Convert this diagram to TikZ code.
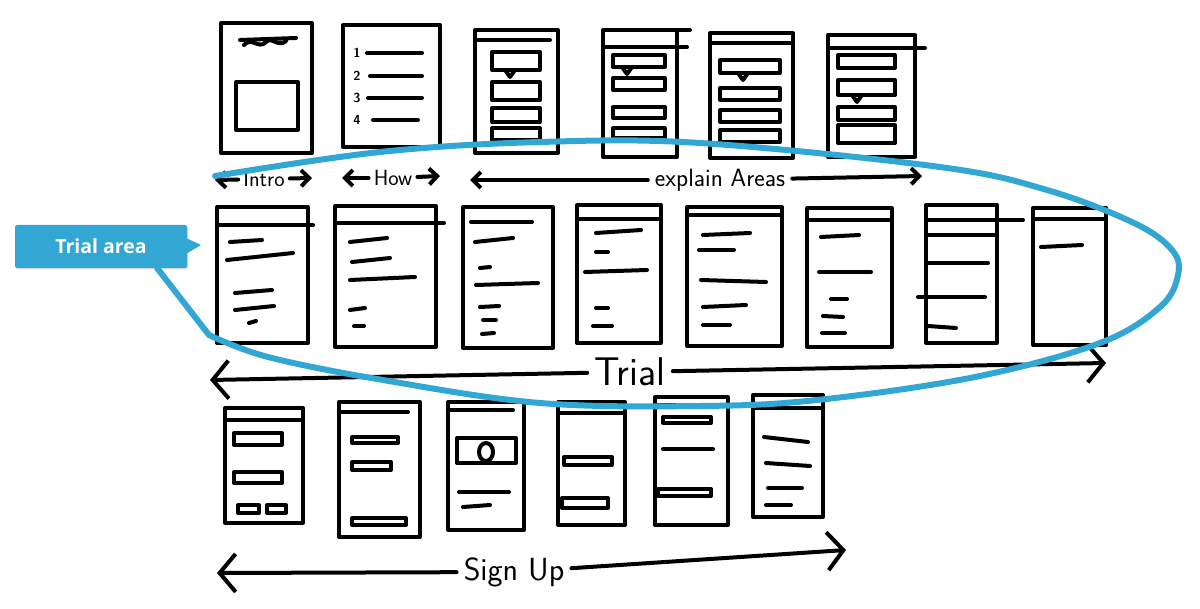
\documentclass[tikz,border=0pt]{standalone}
\usepackage{fontspec}
\newfontfamily\calloutfont{Open Sans}
\usetikzlibrary{arrows.meta,shadows}
\definecolor{trialblue}{HTML}{32A7D4}

\begin{document}
\begin{tikzpicture}[x=1pt, y=-1pt,
  ink/.style={line width=4pt, line cap=round, line join=round},
  screen/.style={draw, ink, inner sep=0pt, outer sep=0pt},
  arr/.style={ink, -{Straight Barb[length=8pt,width=16pt]}},
  bigarr/.style={ink, -{Straight Barb[length=16pt,width=38pt]}},
  hand/.style={font=\sffamily, inner sep=7pt},
  arealine/.style={trialblue, line width=6pt, line cap=round, line join=round},
  callbox/.style={fill=trialblue, text=white, rounded corners=2pt, minimum width=172, minimum height=43,
    font=\calloutfont\bfseries\fontsize{19.5}{19.5}\selectfont,
    drop shadow={opacity=0.3, shadow xshift=1pt, shadow yshift=-1.5pt}}]
\useasboundingbox (0,0) rectangle (1200,609);

\node[screen, minimum width=91, minimum height=130] (intro) at (266.5,88) {};
\draw[ink] (240,40) -- (296,38);
\draw[ink] (244,45) .. controls (252,36) and (258,50) .. (266,42) .. controls (272,36) and (278,48) .. (286,41);
\draw[ink] (236,82) rectangle (298,130);
\node[screen, minimum width=97, minimum height=122] (how) at (391.5,86) {};
\foreach \n/\y/\xa/\xb in {1/53/367/422, 2/76/370/422, 3/98/368/422, 4/120/373/418} {
  \node[font=\sffamily\bfseries\fontsize{13}{13}\selectfont, inner sep=0pt] (num\n) at (357,\y) {\n};
  \draw[ink] (\xa,\y) -- (\xb,\y);
}
\node[screen, minimum width=83, minimum height=123] (explainA) at (516.5,91.5) {};
\node[screen, minimum width=74, minimum height=127] (explainB) at (640,93.5) {};
\node[screen, minimum width=83, minimum height=125] (explainC) at (751.5,95.5) {};
\node[screen, minimum width=87, minimum height=122] (explainD) at (871.5,96) {};
\foreach \xa/\xb/\y in {475/550/40, 603/687/47, 677/690/30, 710/793/43, 828/925/48}
  \draw[ink] (\xa,\y) -- (\xb,\y);
\foreach \xa/\xb/\ya/\yb in {492/540/52/70, 492/540/82/100, 492/540/108/122, 492/540/128/140,
    613/665/55/67, 613/665/78/90, 613/665/107/118, 613/665/128/138,
    720/780/60/73, 720/780/88/100, 720/780/110/122, 720/780/130/142,
    838/895/55/68, 838/895/80/95, 838/895/107/120, 838/895/125/143}
  \draw[ink] (\xa,\ya) rectangle (\xb,\yb);
\foreach \x/\y in {510/70, 627/67, 743/73, 857/95}
  \draw[ink] (\x-5,\y) -- (\x,\y+7) -- (\x+5,\y);

\node[hand, inner sep=5pt, font=\sffamily\fontsize{22}{22}\selectfont] (introtxt) at (264,179) {Intro};
\coordinate (introL) at (215,180);
\coordinate (introR) at (312,178);
\draw[arr] (introtxt) -- (introL);
\draw[arr] (introtxt) -- (introR);
\node[hand, inner sep=5pt, font=\sffamily\fontsize{22}{22}\selectfont] (howtxt) at (393,178) {How};
\coordinate (howL) at (342,178);
\coordinate (howR) at (440,176);
\draw[arr] (howtxt) -- (howL);
\draw[arr] (howtxt) -- (howR);
\node[hand, font=\sffamily\fontsize{25}{25}\selectfont] (exptxt) at (720,180) {explain Areas};
\coordinate (expL) at (470,180);
\coordinate (expR) at (922,176);
\draw[arr] (exptxt) -- (expL);
\draw[arr] (exptxt) -- (expR);

\node[screen, minimum width=91, minimum height=136] (trialA) at (262.5,275) {};
\node[screen, minimum width=101, minimum height=141] (trialB) at (385.5,276.5) {};
\node[screen, minimum width=90, minimum height=141] (trialC) at (508,277.5) {};
\node[screen, minimum width=84, minimum height=138] (trialD) at (619,274) {};
\node[screen, minimum width=95, minimum height=139] (trialE) at (734.5,276.5) {};
\node[screen, minimum width=85, minimum height=139] (trialF) at (849.5,277.5) {};
\node[screen, minimum width=71, minimum height=138] (trialG) at (961.5,274) {};
\node[screen, minimum width=73, minimum height=137] (trialH) at (1069.5,276.5) {};
\foreach \xa/\xb/\y in {217/313/225, 335/444/223, 471/532/222, 577/661/219, 687/782/215,
    810/892/220, 926/1023/220, 1033/1106/219}
  \draw[ink] (\xa,\y) -- (\xb,\y);
\foreach \xa/\ya/\xb/\yb in {230/242/262/240, 227/260/293/253, 235/293/272/290, 235/310/274/306, 249/323/256/321,
    350/242/387/238, 352/262/390/258, 350/280/415/277, 350/310/365/308, 354/326/364/326,
    475/242/513/238, 480/268/490/267, 476/285/538/283, 480/307/499/306, 483/320/496/320, 482/334/494/333,
    596/233/641/230, 596/252/608/252, 585/272/647/270, 596/308/608/308, 593/326/612/326,
    703/235/750/233, 699/250/734/250, 701/280/766/282, 703/307/746/305, 703/325/730/325,
    821/237/859/235, 819/272/871/272, 831/299/847/299, 823/316/843/317, 822/333/845/333,
    926/235/995/235, 926/263/988/263, 918/297/985/297, 928/326/956/328,
    1041/247/1082/245}
  \draw[ink] (\xa,\ya) -- (\xb,\yb);

\node[hand, font=\sffamily\fontsize{40}{40}\selectfont] (trialtxt) at (630,372) {Trial};
\coordinate (trialL) at (210,380);
\coordinate (trialR) at (1106,363);
\draw[bigarr] (trialtxt) -- (trialL);
\draw[bigarr] (trialtxt) -- (trialR);

\node[screen, minimum width=78, minimum height=115] (signA) at (264,465.5) {};
\node[screen, minimum width=81, minimum height=135] (signB) at (379.5,469.5) {};
\node[screen, minimum width=76, minimum height=128] (signC) at (486,466) {};
\node[screen, minimum width=67, minimum height=123] (signD) at (591.5,463.5) {};
\node[screen, minimum width=73, minimum height=128] (signE) at (691.5,461) {};
\node[screen, minimum width=70, minimum height=122] (signF) at (788,456) {};
\foreach \xa/\xb/\y in {225/303/420, 339/408/412, 448/513/410, 558/625/413, 655/725/405, 753/823/408}
  \draw[ink] (\xa,\y) -- (\xb,\y);
\foreach \xa/\ya/\xb/\yb in {234/433/282/445, 234/472/282/483, 238/505/259/513, 267/505/286/513,
    352/437/398/443, 352/462/391/470, 352/518/406/525,
    457/438/516/463, 564/457/612/465, 562/498/608/508,
    663/417/711/423, 658/489/711/496}
  \draw[ink] (\xa,\ya) rectangle (\xb,\yb);
\draw[ink] (486,452) ellipse [x radius=7, y radius=9];
\foreach \xa/\ya/\xb/\yb in {459/492/509/492, 463/507/490/505, 663/449/713/449,
    764/437/808/442, 766/463/810/466, 768/488/802/488, 766/505/791/505}
  \draw[ink] (\xa,\ya) -- (\xb,\yb);

\node[hand, font=\sffamily\fontsize{32}{32}\selectfont] (signtxt) at (514,572) {Sign Up};
\coordinate (signL) at (217,573);
\coordinate (signR) at (846,550);
\draw[bigarr] (signtxt) -- (signL);
\draw[bigarr] (signtxt) -- (signR);

\node[callbox] (trialarea) at (101,246.5) {Trial area};
\fill[trialblue] (186,238) -- (201,245) -- (186,254) -- cycle;
\draw[arealine] ([xshift=-30pt]trialarea.south east) -- plot[smooth, tension=0.6] coordinates {(209,335) (268,357)
  (383,380) (540,403) (700,406) (817,400) (975,377) (1100,343) (1160,307) (1178,275) (1172,250) (1134,223)
  (1047,190) (940,167) (700,143) (540,142) (380,152) (215,176)};
\end{tikzpicture}
\end{document}
